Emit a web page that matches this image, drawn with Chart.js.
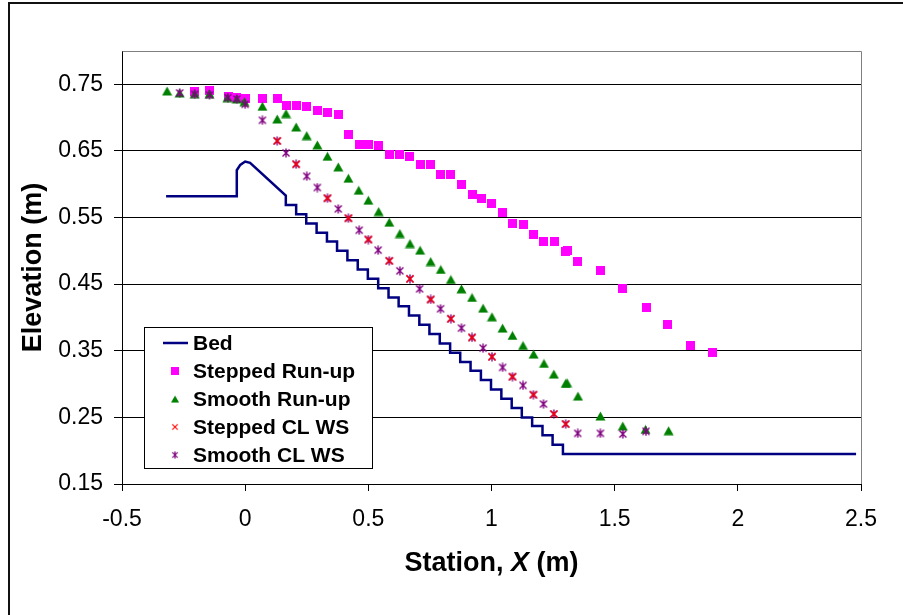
<!DOCTYPE html>
<html>
<head>
<title>Elevation vs Station</title>
<script src="https://cdn.jsdelivr.net/npm/chart.js"></script>
<style>
  body { margin: 0; background: #fff; }
</style>
</head>
<body>
<canvas id="canvas" width="903" height="615"></canvas>
<script>
// bed crest (flat approach, rounded crest, first slope)
const bedTopX = [-0.321, -0.034, -0.034, -0.020, 0.000, 0.020, 0.165]
const bedTopY = [0.582, 0.582, 0.621, 0.629, 0.634, 0.632, 0.583]
// stepped face: riser stations and tread elevations
const stepX = [0.165, 0.207, 0.248, 0.290, 0.332, 0.373, 0.415, 0.457, 0.498, 0.540,
  0.582, 0.623, 0.665, 0.707, 0.748, 0.790, 0.832, 0.873, 0.915, 0.957,
  0.998, 1.040, 1.082, 1.123, 1.165, 1.207, 1.248, 1.290]
const stepY = [0.569, 0.555, 0.541, 0.527, 0.514, 0.500, 0.486, 0.472, 0.458, 0.444,
  0.430, 0.417, 0.403, 0.389, 0.375, 0.361, 0.347, 0.333, 0.320, 0.306,
  0.292, 0.278, 0.264, 0.250, 0.237, 0.223, 0.209, 0.195]
const bedEndX = 2.48

const steppedRunX = [-0.206, -0.145, -0.068, -0.034, 0.003, 0.070, 0.130, 0.169, 0.207, 0.250,
  0.293, 0.335, 0.378, 0.419, 0.463, 0.500, 0.542, 0.585, 0.628, 0.669,
  0.711, 0.753, 0.793, 0.835, 0.878, 0.921, 0.961, 1.002, 1.045, 1.085,
  1.128, 1.171, 1.213, 1.254, 1.300, 1.307, 1.349, 1.442, 1.531, 1.628,
  1.716, 1.808, 1.898]
const steppedRunY = [0.739, 0.740, 0.732, 0.730, 0.728, 0.729, 0.728, 0.718, 0.718, 0.717,
  0.711, 0.708, 0.704, 0.674, 0.660, 0.659, 0.658, 0.644, 0.644, 0.642,
  0.630, 0.630, 0.615, 0.614, 0.600, 0.584, 0.578, 0.571, 0.557, 0.541,
  0.540, 0.525, 0.514, 0.514, 0.499, 0.501, 0.484, 0.471, 0.443, 0.415,
  0.389, 0.358, 0.347]

const smoothRunX = [-0.317, -0.266, -0.205, -0.145, -0.072, -0.034, -0.003, 0.070, 0.130, 0.166,
  0.207, 0.250, 0.293, 0.334, 0.378, 0.419, 0.461, 0.500, 0.542, 0.585,
  0.628, 0.669, 0.710, 0.753, 0.794, 0.835, 0.878, 0.921, 0.966, 1.002,
  1.045, 1.085, 1.128, 1.171, 1.213, 1.253, 1.301, 1.307, 1.351, 1.442,
  1.533, 1.625, 1.719]
const smoothRunY = [0.740, 0.737, 0.736, 0.736, 0.730, 0.728, 0.724, 0.717, 0.698, 0.706,
  0.686, 0.673, 0.659, 0.642, 0.626, 0.609, 0.591, 0.576, 0.559, 0.543,
  0.526, 0.511, 0.501, 0.484, 0.472, 0.457, 0.443, 0.430, 0.414, 0.401,
  0.384, 0.373, 0.358, 0.345, 0.331, 0.315, 0.301, 0.302, 0.282, 0.252,
  0.237, 0.232, 0.230]

const steppedWsX = [0.130, 0.207, 0.334, 0.419, 0.500, 0.585, 0.669, 0.753, 0.835, 0.921,
  1.002, 1.085, 1.170, 1.253, 1.301]
const steppedWsY = [0.665, 0.630, 0.579, 0.549, 0.517, 0.485, 0.458, 0.427, 0.398, 0.370,
  0.341, 0.311, 0.284, 0.255, 0.240]

const smoothWsX = [-0.266, -0.205, -0.145, -0.070, -0.034, 0.000, 0.070, 0.130, 0.166, 0.207,
  0.250, 0.293, 0.334, 0.378, 0.419, 0.463, 0.500, 0.540, 0.585, 0.628,
  0.669, 0.708, 0.753, 0.793, 0.835, 0.878, 0.921, 0.966, 1.002, 1.045,
  1.085, 1.128, 1.170, 1.211, 1.253, 1.301, 1.350, 1.442, 1.533, 1.627]
const smoothWsY = [0.737, 0.735, 0.734, 0.730, 0.728, 0.720, 0.696, 0.665, 0.647, 0.630,
  0.612, 0.595, 0.579, 0.563, 0.549, 0.531, 0.517, 0.501, 0.485, 0.470,
  0.458, 0.443, 0.427, 0.413, 0.398, 0.384, 0.370, 0.354, 0.341, 0.325,
  0.311, 0.298, 0.284, 0.270, 0.255, 0.240, 0.226, 0.226, 0.225, 0.229]

const xTicks = [-0.5, 0, 0.5, 1, 1.5, 2, 2.5]
const xTickLabels = ['-0.5', '0', '0.5', '1', '1.5', '2', '2.5']
const yTicks = [0.15, 0.25, 0.35, 0.45, 0.55, 0.65, 0.75]
const yTickLabels = ['0.15', '0.25', '0.35', '0.45', '0.55', '0.65', '0.75']

const seriesNames = ['Bed', 'Stepped Run-up', 'Smooth Run-up', 'Stepped CL WS', 'Smooth CL WS']

const FONT = '"Liberation Sans", Arial, sans-serif'

// bed polyline: crest points, then riser/tread pairs, then the flat toe
const bed = bedTopX.map((x, i) => ({ x, y: bedTopY[i] }))
let lastY = bedTopY[bedTopY.length - 1]
stepX.forEach((x, i) => {
  bed.push({ x, y: lastY })
  bed.push({ x, y: stepY[i] })
  lastY = stepY[i]
})
bed.push({ x: bedEndX, y: lastY })

const pts = (xs, ys) => xs.map((x, i) => ({ x, y: ys[i] }))

// marker images
function marker(w, h, draw) {
  const c = document.createElement('canvas')
  c.width = w
  c.height = h
  draw(c.getContext('2d'))
  return c
}
const squareMark = marker(9, 9, g => {
  g.fillStyle = '#ff00ff'
  g.fillRect(0, 0, 9, 9)
})
const triangleMark = marker(11, 10, g => {
  g.fillStyle = '#008000'
  g.beginPath()
  g.moveTo(5.5, 0.5)
  g.lineTo(10.5, 9.5)
  g.lineTo(0.5, 9.5)
  g.closePath()
  g.fill()
})
const crossMark = marker(10, 10, g => {
  g.strokeStyle = '#ff0000'
  g.lineWidth = 1.4
  g.beginPath()
  g.moveTo(1.5, 1.5); g.lineTo(8.5, 8.5)
  g.moveTo(8.5, 1.5); g.lineTo(1.5, 8.5)
  g.stroke()
})
const starMark = marker(10, 10, g => {
  g.strokeStyle = '#800080'
  g.lineWidth = 1.4
  g.beginPath()
  g.moveTo(1.5, 1.5); g.lineTo(8.5, 8.5)
  g.moveTo(8.5, 1.5); g.lineTo(1.5, 8.5)
  g.moveTo(5, 0.5); g.lineTo(5, 9.5)
  g.stroke()
})

// white page, outer frame, plot box, legend and axis titles
const decor = {
  id: 'decor',
  beforeDraw(chart) {
    const ctx = chart.ctx
    ctx.save()
    ctx.fillStyle = '#fff'
    ctx.fillRect(0, 0, chart.width, chart.height)
    ctx.strokeStyle = '#111'
    ctx.lineWidth = 2
    ctx.beginPath()
    ctx.moveTo(9, chart.height)
    ctx.lineTo(9, 3)
    ctx.lineTo(chart.width, 3)
    ctx.stroke()
    ctx.restore()
  },
  afterDraw(chart) {
    const ctx = chart.ctx
    const a = chart.chartArea
    ctx.save()
    ctx.strokeStyle = '#808080'
    ctx.lineWidth = 1
    ctx.beginPath()
    ctx.moveTo(Math.round(a.left) + 0.5, Math.round(a.top) + 0.5)
    ctx.lineTo(Math.round(a.right) + 0.5, Math.round(a.top) + 0.5)
    ctx.lineTo(Math.round(a.right) + 0.5, Math.round(a.bottom))
    ctx.stroke()

    // legend
    const lx = 144, ly = 327, lw = 228, lh = 141
    ctx.fillStyle = '#fff'
    ctx.fillRect(lx, ly, lw, lh)
    ctx.strokeStyle = '#000'
    ctx.strokeRect(lx + 0.5, ly + 0.5, lw, lh)
    const marks = [null, squareMark, triangleMark, crossMark, starMark]
    ctx.font = 'bold 21px ' + FONT
    ctx.textBaseline = 'middle'
    ctx.textAlign = 'left'
    seriesNames.forEach((name, i) => {
      const cy = 343 + i * 28
      if (i === 0) {
        ctx.strokeStyle = '#000080'
        ctx.lineWidth = 2.5
        ctx.beginPath()
        ctx.moveTo(163, cy)
        ctx.lineTo(188, cy)
        ctx.stroke()
      } else {
        const m = marks[i]
        const s = 0.8
        ctx.drawImage(m, 175 - m.width * s / 2, cy - m.height * s / 2, m.width * s, m.height * s)
      }
      ctx.fillStyle = '#000'
      ctx.fillText(name, 193, cy + 1)
    })

    // axis titles
    const size = 27
    ctx.fillStyle = '#000'
    ctx.textBaseline = 'alphabetic'
    const parts = [['Station, ', 'bold'], ['X', 'italic bold'], [' (m)', 'bold']]
    let total = 0
    parts.forEach(p => { ctx.font = p[1] + ' ' + size + 'px ' + FONT; total += ctx.measureText(p[0]).width })
    let tx = (a.left + a.right) / 2 - total / 2
    const ty = 571
    parts.forEach(p => {
      ctx.font = p[1] + ' ' + size + 'px ' + FONT
      ctx.fillText(p[0], tx, ty)
      tx += ctx.measureText(p[0]).width
    })

    ctx.translate(41, (a.top + a.bottom) / 2)
    ctx.rotate(-Math.PI / 2)
    ctx.font = 'bold ' + size + 'px ' + FONT
    ctx.textAlign = 'center'
    ctx.fillText('Elevation (m)', 0, 0)
    ctx.restore()
  }
}

const ctx = document.querySelector('#canvas').getContext('2d')
const chart = new Chart(ctx, {
  type: 'scatter',
  data: {
    datasets: [
      {
        label: seriesNames[0], data: bed, showLine: true, pointRadius: 0,
        borderColor: '#000080', borderWidth: 2.5, tension: 0, order: 5
      },
      {
        label: seriesNames[1], data: pts(steppedRunX, steppedRunY),
        pointStyle: squareMark, pointRadius: 5, order: 4
      },
      {
        label: seriesNames[2], data: pts(smoothRunX, smoothRunY),
        pointStyle: triangleMark, pointRadius: 5, order: 3
      },
      {
        label: seriesNames[3], data: pts(steppedWsX, steppedWsY),
        pointStyle: crossMark, pointRadius: 5, order: 1
      },
      {
        label: seriesNames[4], data: pts(smoothWsX, smoothWsY),
        pointStyle: starMark, pointRadius: 5, order: 2
      }
    ]
  },
  options: {
    responsive: false,
    animation: false,
    devicePixelRatio: 1,
    layout: { padding: { top: 51, right: 42, left: 0, bottom: 0 } },
    plugins: { legend: { display: false }, tooltip: { enabled: false } },
    scales: {
      x: {
        type: 'linear',
        min: -0.5,
        max: 2.5,
        afterBuildTicks: s => { s.ticks = xTicks.map(v => ({ value: v })) },
        afterFit: s => { s.height = 131 },
        ticks: {
          autoSkip: false,
          maxRotation: 0,
          padding: 15,
          color: '#000',
          font: { family: FONT, size: 23 },
          callback: (v, i) => xTickLabels[i]
        },
        grid: { drawOnChartArea: false, drawTicks: true, tickLength: 7, tickColor: '#000' },
        border: { color: '#000', width: 1 }
      },
      y: {
        type: 'linear',
        min: 0.15,
        max: 0.8,
        afterBuildTicks: s => { s.ticks = yTicks.map(v => ({ value: v })) },
        afterFit: s => { s.width = 122 },
        ticks: {
          padding: 11,
          color: '#000',
          font: { family: FONT, size: 23 },
          callback: (v, i) => yTickLabels[i]
        },
        grid: { color: '#000', lineWidth: 1, tickLength: 8, tickColor: '#000' },
        border: { color: '#000', width: 1 }
      }
    }
  },
  plugins: [decor]
})
</script>
</body>
</html>
